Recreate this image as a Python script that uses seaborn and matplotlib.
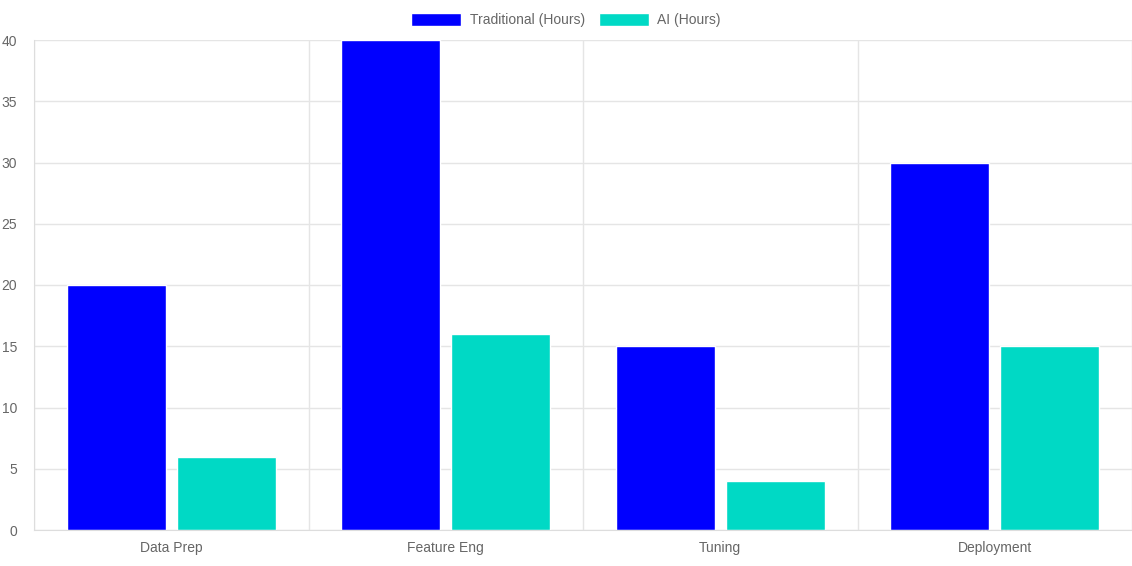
import matplotlib
matplotlib.use("Agg")
import matplotlib.pyplot as plt
import seaborn as sns
import pandas as pd
from matplotlib.patches import Patch

categories = ["Data Prep", "Feature Eng", "Tuning", "Deployment"]
traditional = [20, 40, 15, 30]
ai = [6, 16, 4, 15]
series_names = ["Traditional (Hours)", "AI (Hours)"]
colors = ["#0000FF", "#00D9C5"]

df = pd.DataFrame({
    "cat": categories * 2,
    "val": traditional + ai,
    "series": [series_names[0]] * 4 + [series_names[1]] * 4,
})

sns.set_style("white")
plt.rcParams['font.family'] = ['Liberation Sans', 'DejaVu Sans']
fig = plt.figure(figsize=(11.32, 5.66), dpi=100)
ax = fig.add_axes([34/1132, 36/566, 1098/1132, 490/566])
sns.barplot(data=df, x="cat", y="val", hue="series", palette=colors,
            width=0.8, gap=0.1, ax=ax, legend=False, saturation=1)
ax.set_xlim(-0.5, 3.5)
ax.set_ylim(0, 40)
ax.set_yticks(range(0, 41, 5))
ax.set_xlabel("")
ax.set_ylabel("")
ax.set_xticks([-0.5, 0.5, 1.5, 2.5, 3.5], minor=True)
ax.grid(True, which="minor", axis="x", color="#e5e5e5", lw=1)
ax.grid(True, which="major", axis="y", color="#e5e5e5", lw=1)
ax.set_axisbelow(True)
ax.tick_params(axis="x", which="major", length=0, pad=8, labelsize=10, labelcolor="#666666")
ax.tick_params(axis="x", which="minor", length=8, color="#dddddd")
ax.tick_params(axis="y", length=8, color="#dddddd", labelsize=10, labelcolor="#666666", pad=4)
for s in ["top", "right"]:
    ax.spines[s].set_visible(False)
for s in ["left", "bottom"]:
    ax.spines[s].set_color("#dddddd")

handles = [Patch(facecolor=c, label=n) for c, n in zip(colors, series_names)]
fig.legend(handles=handles, loc="upper center", bbox_to_anchor=(0.5, 1.0), ncol=2,
           frameon=False, handlelength=3.6, handleheight=1.1, fontsize=10,
           labelcolor="#666666", columnspacing=1.0, handletextpad=0.6)
fig.savefig("out.png", dpi=100)
